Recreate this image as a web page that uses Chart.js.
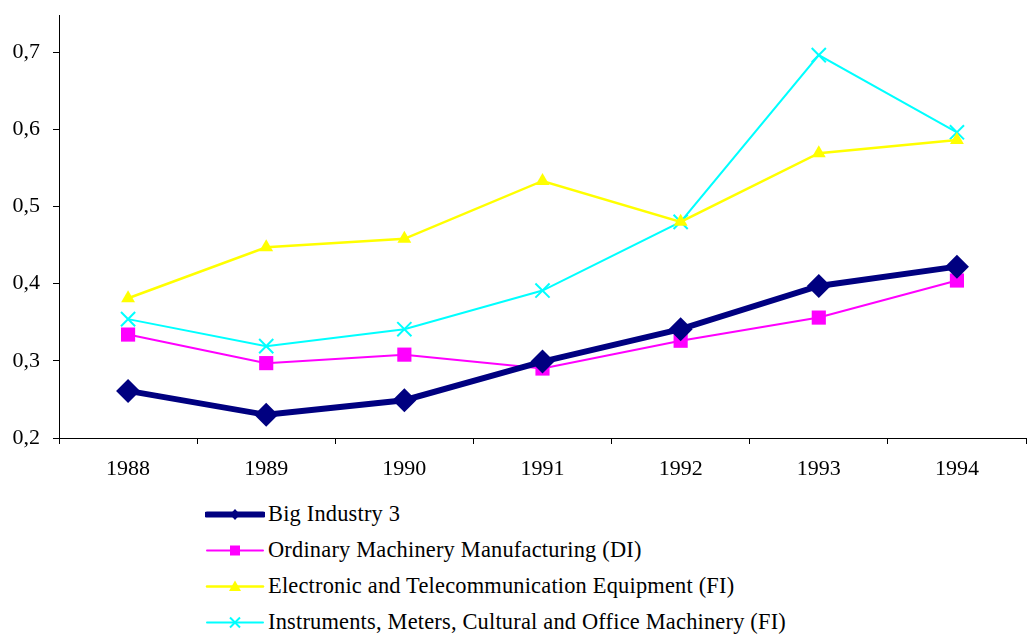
<!DOCTYPE html>
<html>
<head>
<meta charset="utf-8">
<script src="https://cdn.jsdelivr.net/npm/chart.js@4/dist/chart.umd.min.js"></script>
<style>
  html, body { margin: 0; padding: 0; background: #fff; }
  #wrap { position: relative; width: 1028px; height: 635px; overflow: hidden; }
  #chartBox { position: absolute; left: 0; top: 0; width: 1038px; height: 490px; }
  #legend { position: absolute; left: 205px; top: 496px; font-family: 'Liberation Serif', serif; font-size: 22.4px; letter-spacing: 0.2px; color: #000; }
  .row { height: 36px; display: flex; align-items: center; white-space: nowrap; }
  .row svg { display: block; margin-right: 3px; }
</style>
</head>
<body>
<div id="wrap">
  <div id="chartBox"><canvas id="c" width="1038" height="490"></canvas></div>
  <div id="legend"></div>
</div>
<script>
const years = ['1988', '1989', '1990', '1991', '1992', '1993', '1994'];
const bigIndustry = [0.261, 0.230, 0.249, 0.299, 0.341, 0.397, 0.422];
const ordinaryMachinery = [0.334, 0.297, 0.308, 0.290, 0.326, 0.356, 0.404];
const electronicTelecom = [0.381, 0.447, 0.458, 0.533, 0.480, 0.569, 0.586];
const instrumentsMeters = [0.354, 0.319, 0.341, 0.391, 0.480, 0.696, 0.596];
const seriesNames = [
  'Big Industry 3',
  'Ordinary Machinery Manufacturing (DI)',
  'Electronic and Telecommunication Equipment (FI)',
  'Instruments, Meters, Cultural and Office Machinery (FI)'
];
const yTickValues = [0.2, 0.3, 0.4, 0.5, 0.6, 0.7];

const fontFam = "'Liberation Serif', serif";
Chart.defaults.font.family = fontFam;

const datasets = [
  { label: seriesNames[0], data: bigIndustry, borderColor: '#000080', backgroundColor: '#000080',
    borderWidth: 6, pointStyle: 'rectRot', pointRadius: 12, pointBorderWidth: 0 },
  { label: seriesNames[1], data: ordinaryMachinery, borderColor: '#FF00FF', backgroundColor: '#FF00FF',
    borderWidth: 2, pointStyle: 'rect', pointRadius: 10, pointBorderWidth: 0 },
  { label: seriesNames[2], data: electronicTelecom, borderColor: '#FFFF00', backgroundColor: '#FFFF00',
    borderWidth: 2.5, pointStyle: 'triangle', pointRadius: 8, pointBorderWidth: 0 },
  { label: seriesNames[3], data: instrumentsMeters, borderColor: '#00FFFF', backgroundColor: '#00FFFF',
    borderWidth: 2, pointStyle: 'crossRot', pointRadius: 10, pointBorderWidth: 2 }
];
datasets.forEach(d => { d.tension = 0; d.fill = false; d.pointHoverRadius = d.pointRadius; });

new Chart(document.getElementById('c'), {
  type: 'line',
  data: { labels: years, datasets: datasets },
  options: {
    responsive: false,
    animation: false,
    events: [],
    layout: { padding: { top: 15, right: 1, left: 0, bottom: 0 } },
    plugins: { legend: { display: false }, tooltip: { enabled: false } },
    scales: {
      x: {
        type: 'category',
        offset: true,
        border: { display: true, color: '#000', width: 1 },
        grid: {
          offset: true, drawOnChartArea: false, drawTicks: true, tickLength: 6,
          tickColor: (ctx) => ctx.index >= years.length ? 'rgba(0,0,0,0)' : '#000'
        },
        ticks: { color: '#000', font: { family: fontFam, size: 22 }, padding: 12, maxRotation: 0, autoSkip: false },
        afterFit: (s) => { s.height = 52; s.paddingLeft = 0; s.paddingRight = 0; }
      },
      y: {
        min: 0.2, max: 0.748,
        border: { display: true, color: '#000', width: 1 },
        grid: { drawOnChartArea: false, drawTicks: true, tickLength: 6, tickColor: '#000' },
        afterBuildTicks: (s) => { s.ticks = yTickValues.map(v => ({ value: v })); },
        ticks: {
          color: '#000', font: { family: fontFam, size: 22 }, padding: 13,
          callback: (v) => Number(v).toFixed(1).replace('.', ',')
        },
        afterFit: (s) => { s.width = 59; s.paddingTop = 0; s.paddingBottom = 0; }
      }
    }
  }
});

// HTML legend built from the datasets
const legend = document.getElementById('legend');
const markerSvg = {
  rectRot: (c) => `<polygon points="30,3 35,8.5 30,14 25,8.5" fill="${c}"/>`,
  rect: (c) => `<rect x="25" y="3.5" width="10" height="10" fill="${c}"/>`,
  triangle: (c) => `<polygon points="30,2.5 36,13 24,13" fill="${c}"/>`,
  crossRot: (c) => `<path d="M25,3.5 L35,13.5 M35,3.5 L25,13.5" stroke="${c}" stroke-width="2"/>`
};
datasets.forEach(d => {
  const row = document.createElement('div');
  row.className = 'row';
  const lw = d.borderWidth;
  row.innerHTML = `<svg width="60" height="17" viewBox="0 0 60 17">` +
    `<line x1="2" y1="8.5" x2="58" y2="8.5" stroke="${d.borderColor}" stroke-width="${lw}" stroke-linecap="round"/>` +
    markerSvg[d.pointStyle](d.borderColor) + `</svg><span>${d.label}</span>`;
  legend.appendChild(row);
});
</script>
</body>
</html>
